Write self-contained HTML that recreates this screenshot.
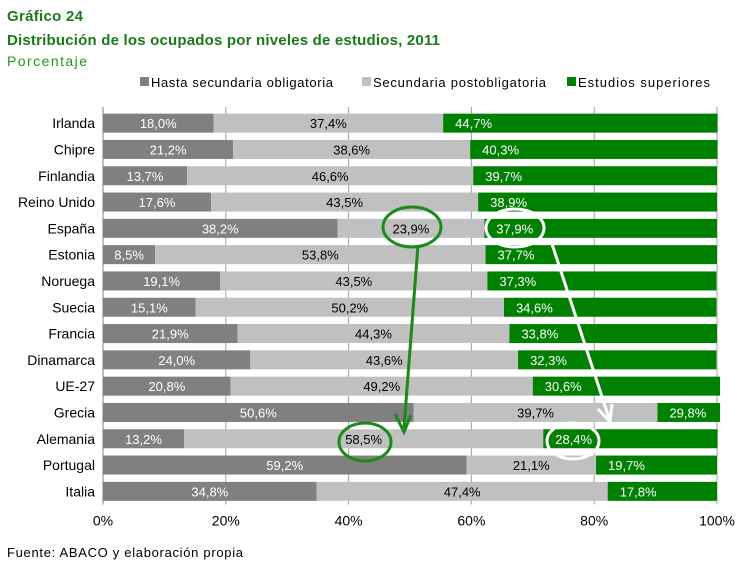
<!DOCTYPE html>
<html><head><meta charset="utf-8"><style>
body{margin:0;background:#fff;width:751px;height:569px;overflow:hidden;font-family:"Liberation Sans",sans-serif}
</style></head><body>
<svg id="chart" width="751" height="569" xmlns="http://www.w3.org/2000/svg" font-family="Liberation Sans, sans-serif">
<text x="7" y="21" font-size="15" font-weight="bold" fill="#1a7a1a" textLength="76">Gráfico 24</text>
<text x="7" y="45" font-size="15" font-weight="bold" fill="#1a7a1a" textLength="433">Distribución de los ocupados por niveles de estudios, 2011</text>
<text x="7" y="66" font-size="14" fill="#1a9a1a" textLength="80">Porcentaje</text>
<g font-size="13">
<rect x="140" y="77" width="9" height="9" fill="#808080"/><text x="151" y="87" textLength="182">Hasta secundaria obligatoria</text>
<rect x="362" y="77" width="9" height="9" fill="#c0c0c0"/><text x="373" y="87" textLength="173">Secundaria postobligatoria</text>
<rect x="567" y="77" width="9" height="9" fill="#008000"/><text x="578" y="87" textLength="132">Estudios superiores</text>
</g>
<g id="grid"></g><g id="bars"></g><g id="axes"></g>
<g fill="none" stroke-width="3">
<ellipse cx="412" cy="227" rx="29" ry="20" stroke="#1a8a1a"/>
<line x1="418" y1="245" x2="404" y2="428" stroke="#1a8a1a"/>
<path d="M395 414 L404 432 L411 415" stroke="#1a8a1a"/>
<ellipse cx="365" cy="442" rx="26" ry="19" stroke="#1a8a1a"/>
<ellipse cx="515" cy="228" rx="29" ry="19" stroke="#fff"/>
<line x1="552" y1="244" x2="609" y2="418" stroke="#fff"/>
<path d="M598 409 L610 422 L612 404" stroke="#fff"/>
<ellipse cx="573" cy="441" rx="26" ry="18" stroke="#fff"/>
</g>
<text x="7" y="557" font-size="13" textLength="236">Fuente:  ABACO y elaboración propia</text>
</svg>
<script>
const countries=["Irlanda","Chipre","Finlandia","Reino Unido","España","Estonia","Noruega","Suecia","Francia","Dinamarca","UE-27","Grecia","Alemania","Portugal","Italia"];
const hasta=[18.0,21.2,13.7,17.6,38.2,8.5,19.1,15.1,21.9,24.0,20.8,50.6,13.2,59.2,34.8];
const secund=[37.4,38.6,46.6,43.5,23.9,53.8,43.5,50.2,44.3,43.6,49.2,39.7,58.5,21.1,47.4];
const superior=[44.7,40.3,39.7,38.9,37.9,37.7,37.3,34.6,33.8,32.3,30.6,29.8,28.4,19.7,17.8];
const ticks=[0,20,40,60,80,100];
const NS="http://www.w3.org/2000/svg";
const x0=103,x1=717,top0=110,rowH=26.3,barH=19;
const xs=v=>x0+(x1-x0)*v/100;
const yc=i=>top0+rowH*i+rowH/2;
function mk(t,a,p){const e=document.createElementNS(NS,t);for(const k in a)e.setAttribute(k,a[k]);p.appendChild(e);return e;}
const grid=document.getElementById('grid'),bars=document.getElementById('bars'),axes=document.getElementById('axes');
const yEnd=top0+rowH*countries.length;
ticks.forEach(t=>{
 const l=mk('line',{x1:xs(t),x2:xs(t),y1:top0-3,y2:yEnd,stroke:'#a0a0a0','stroke-width':1},grid);
 
 
 const tx=mk('text',{x:xs(t),y:yEnd+21,'font-size':14,'text-anchor':'middle'},axes);
 tx.textContent=t+'%';
 
 
});
const ax=mk('line',{x1:x0,x2:x0,y1:top0-3,y2:yEnd,stroke:'#808080'},axes);


const fmt=v=>v.toFixed(1).replace('.',',')+'%';
countries.forEach((c,i)=>{
 const y=yc(i);
 const lab=mk('text',{x:95,y:y+5,'font-size':14,'text-anchor':'end'},axes);
 lab.textContent=c;
 
 
 const segs=[[hasta[i],'#808080','#fff'],[secund[i],'#c0c0c0','#000'],[superior[i],'#008000','#fff']];
 let acc=0;
 segs.forEach((s,k)=>{
  const a=xs(acc),b=xs(Math.min(acc+s[0],100.5));
  const r=mk('rect',{x:a,y:y-barH/2,width:b-a,height:barH,fill:s[1]},bars);
  
  
  const tx=mk('text',{x:k==2?a+12:(a+b)/2,y:y+5,'font-size':13,'text-anchor':k==2?'start':'middle',fill:s[2]},bars);
  tx.textContent=fmt(s[0]);
  
  
  acc+=s[0];
 });
});
</script>
</body></html>
